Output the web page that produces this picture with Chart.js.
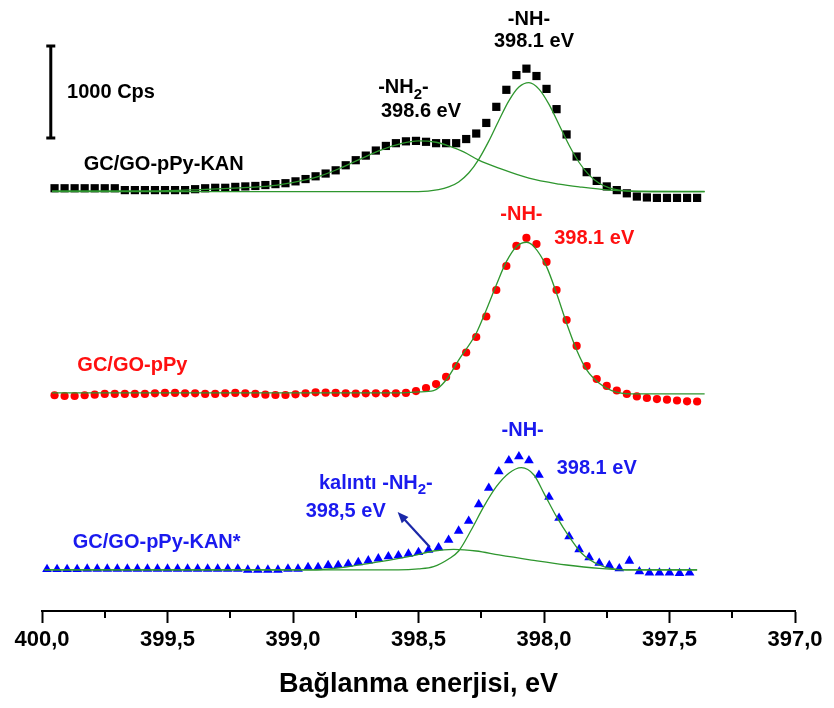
<!DOCTYPE html>
<html>
<head>
<meta charset="utf-8">
<script src="https://cdn.jsdelivr.net/npm/chart.js@4.4.0/dist/chart.umd.min.js"></script>
<style>
html, body { margin: 0; padding: 0; background: #fff; }
#kutu { width: 834px; height: 708px; }
</style>
</head>
<body>
<div id="kutu"><canvas id="xpsGrafik" width="834" height="708"></canvas></div>
<script>
// enerji degerleri (eV) - GC/GO-pPy-KAN ve GC/GO-pPy olcumleri
const enerjiA = [399.95, 399.91, 399.87, 399.83, 399.79, 399.75, 399.71, 399.67, 399.63, 399.59,
    399.55, 399.51, 399.47, 399.43, 399.39, 399.35, 399.31, 399.27, 399.23, 399.19,
    399.15, 399.11, 399.07, 399.03, 398.99, 398.95, 398.91, 398.87, 398.83, 398.79,
    398.75, 398.71, 398.67, 398.63, 398.59, 398.55, 398.51, 398.47, 398.43, 398.39,
    398.35, 398.31, 398.27, 398.23, 398.19, 398.15, 398.11, 398.07, 398.03, 397.99,
    397.95, 397.91, 397.87, 397.83, 397.79, 397.75, 397.71, 397.67, 397.63, 397.59,
    397.55, 397.51, 397.47, 397.43, 397.39];
// GC/GO-pPy-KAN* olcumu
const enerjiB = [399.98, 399.94, 399.90, 399.86, 399.82, 399.78, 399.74, 399.70, 399.66, 399.62,
    399.58, 399.54, 399.50, 399.46, 399.42, 399.38, 399.34, 399.30, 399.26, 399.22,
    399.18, 399.14, 399.10, 399.06, 399.02, 398.98, 398.94, 398.90, 398.86, 398.82,
    398.78, 398.74, 398.70, 398.66, 398.62, 398.58, 398.54, 398.50, 398.46, 398.42,
    398.38, 398.34, 398.30, 398.26, 398.22, 398.18, 398.14, 398.10, 398.06, 398.02,
    397.98, 397.94, 397.90, 397.86, 397.82, 397.78, 397.74, 397.70, 397.66, 397.62,
    397.58, 397.54, 397.50, 397.46, 397.42];

// siddetler (Cps, grafikteki kaydirilmis hali)
const kanSiddet = [4595, 4595, 4595, 4595, 4595, 4595, 4595, 4575, 4575, 4575,
    4575, 4575, 4575, 4575, 4585, 4595, 4600, 4600, 4610, 4615,
    4620, 4630, 4640, 4650, 4670, 4695, 4725, 4755, 4790, 4845,
    4900, 4950, 5005, 5055, 5085, 5105, 5110, 5100, 5085, 5085,
    5085, 5130, 5190, 5305, 5480, 5665, 5825, 5895, 5815, 5675,
    5455, 5180, 4940, 4770, 4675, 4615, 4575, 4540, 4505, 4495,
    4490, 4490, 4490, 4490, 4490];
const ppySiddet = [2345, 2337, 2337, 2345, 2351, 2359, 2359, 2359, 2359, 2359,
    2366, 2370, 2370, 2366, 2366, 2359, 2359, 2366, 2370, 2366,
    2359, 2351, 2348, 2348, 2355, 2366, 2377, 2373, 2370, 2366,
    2362, 2366, 2366, 2366, 2366, 2370, 2391, 2424, 2467, 2544,
    2663, 2810, 2978, 3201, 3489, 3750, 3968, 4055, 3989, 3794,
    3489, 3163, 2881, 2663, 2522, 2446, 2397, 2359, 2332, 2315,
    2304, 2297, 2288, 2279, 2277];
const kanYildizSiddet = [453, 453, 453, 453, 457, 457, 457, 457, 457, 457,
    457, 457, 457, 457, 457, 457, 457, 457, 457, 457,
    446, 446, 446, 446, 457, 457, 475, 475, 497, 497,
    511, 529, 547, 569, 592, 603, 620, 638, 663, 690,
    772, 870, 978, 1158, 1337, 1516, 1636, 1679, 1636, 1478,
    1239, 1011, 810, 669, 582, 522, 495, 462, 544, 429,
    416, 416, 416, 410, 416];

// fit egrileri
const kanFitNH2Enerji = [399.96, 399.77, 399.57, 399.37, 399.21, 399.09, 398.97, 398.89, 398.81, 398.73,
    398.65, 398.57, 398.50, 398.43, 398.38, 398.32, 398.26, 398.18, 398.06, 397.94,
    397.86, 397.74, 397.58, 397.36];
const kanFitNH2 = [4565, 4565, 4565, 4580, 4600, 4620, 4675, 4730, 4815, 4915,
    5010, 5080, 5110, 5095, 5055, 4990, 4900, 4815, 4705, 4640,
    4610, 4575, 4560, 4560];
const kanFitNHEnerji = [399.96, 398.50, 398.42, 398.38, 398.34, 398.30, 398.26, 398.22, 398.18, 398.14,
    398.10, 398.06, 398.02, 397.98, 397.94, 397.90, 397.86, 397.82, 397.78, 397.74,
    397.70, 397.62, 397.36];
const kanFitNH = [4558, 4558, 4580, 4609, 4664, 4761, 4910, 5107, 5332, 5545,
    5695, 5743, 5673, 5507, 5286, 5063, 4875, 4738, 4650, 4600,
    4575, 4560, 4558];
const ppyFitEnerji = [399.96, 398.58, 398.50, 398.44, 398.39, 398.34, 398.27, 398.23, 398.19, 398.15,
    398.11, 398.07, 398.04, 397.99, 397.95, 397.91, 397.87, 397.83, 397.78, 397.73,
    397.65, 397.36];
const ppyFit = [2370, 2370, 2381, 2395, 2511, 2728, 3019, 3272, 3544, 3797,
    3960, 4008, 3960, 3743, 3453, 3127, 2837, 2620, 2475, 2395,
    2359, 2359];
const kanYildizFitNHEnerji = [399.99, 398.58, 398.50, 398.44, 398.38, 398.34, 398.29, 398.24, 398.19, 398.14,
    398.09, 398.04, 398.00, 397.95, 397.90, 397.85, 397.78, 397.71, 397.62, 397.39];
const kanYildizFitNH = [446, 446, 457, 482, 565, 652, 880, 1134, 1351, 1497,
    1558, 1478, 1279, 1025, 808, 627, 500, 453, 446, 446];
const kanYildizFitNH2Enerji = [399.99, 398.97, 398.89, 398.79, 398.66, 398.52, 398.44, 398.36, 398.27, 398.18,
    398.05, 397.91, 397.78, 397.65, 397.39];
const kanYildizFitNH2 = [446, 446, 451, 478, 533, 603, 652, 669, 652, 609,
    554, 500, 464, 446, 446];

// eksen
const anaTikler = [400.0, 399.5, 399.0, 398.5, 398.0, 397.5, 397.0];
const araTikler = [399.75, 399.25, 398.75, 398.25, 397.75, 397.25];

const yazi = 'Arial, "Liberation Sans", sans-serif';
const yesil = '#2e962e';
const siyah = '#000000';
const kirmizi = '#ff1010';
const mavi = '#1a1aee';

function noktalar(enerji, siddet) {
    return enerji.map((e, i) => ({ x: e, y: siddet[i] }));
}

function fitSeti(enerji, siddet) {
    return {
        data: noktalar(enerji, siddet),
        showLine: true,
        borderColor: yesil,
        borderWidth: 1.3,
        pointRadius: 0,
        cubicInterpolationMode: 'monotone',
        fill: false
    };
}

// yazilar: [metin parcasi, boyut, dikey kayma]
const etiketler = [
    { p: [['-NH-', 20, 0]], e: 398.06, v: 6425, renk: siyah },
    { p: [['398.1 eV', 20, 0]], e: 398.04, v: 6185, renk: siyah },
    { p: [['-NH', 20, 0], ['2', 15, 7], ['-', 20, 0]], e: 398.56, v: 5685, renk: siyah },
    { p: [['398.6 eV', 20, 0]], e: 398.49, v: 5425, renk: siyah },
    { p: [['GC/GO-pPy-KAN', 20, 0]], e: 399.515, v: 4850, renk: siyah },
    { p: [['-NH-', 20, 0]], e: 398.09, v: 4305, renk: kirmizi },
    { p: [['398.1 eV', 20, 0]], e: 397.80, v: 4045, renk: kirmizi },
    { p: [['GC/GO-pPy', 20, 0]], e: 399.64, v: 2665, renk: kirmizi },
    { p: [['-NH-', 20, 0]], e: 398.085, v: 1967, renk: mavi },
    { p: [['398.1 eV', 20, 0]], e: 397.79, v: 1545, renk: mavi },
    { p: [['kalıntı -NH', 20, 0], ['2', 15, 7], ['-', 20, 0]], e: 398.67, v: 1390, renk: mavi },
    { p: [['398,5 eV', 20, 0]], e: 398.79, v: 1087, renk: mavi },
    { p: [['GC/GO-pPy-KAN*', 20, 0]], e: 399.543, v: 740, renk: mavi }
];

function yaz(ctx, parcalar, cx, cy, renk) {
    let toplam = 0;
    parcalar.forEach(p => {
        ctx.font = 'bold ' + p[1] + 'px ' + yazi;
        toplam += ctx.measureText(p[0]).width;
    });
    let x = cx - toplam / 2;
    ctx.fillStyle = renk;
    ctx.textAlign = 'left';
    ctx.textBaseline = 'middle';
    parcalar.forEach(p => {
        ctx.font = 'bold ' + p[1] + 'px ' + yazi;
        ctx.fillText(p[0], x, cy + p[2]);
        x += ctx.measureText(p[0]).width;
    });
}

const ekCizimler = {
    id: 'ekCizimler',
    afterDraw(chart) {
        const ctx = chart.ctx;
        const sx = chart.scales.x;
        const sy = chart.scales.y;
        ctx.save();
        // ara tikler
        ctx.strokeStyle = siyah;
        ctx.lineWidth = 2;
        araTikler.forEach(e => {
            const px = Math.round(sx.getPixelForValue(e));
            ctx.beginPath();
            ctx.moveTo(px, sx.top);
            ctx.lineTo(px, sx.top + 7);
            ctx.stroke();
        });
        // 1000 Cps olcek cubugu
        const bx = sx.getPixelForValue(399.965);
        const b1 = sy.getPixelForValue(5142);
        const b2 = sy.getPixelForValue(5142 + 1000);
        ctx.lineWidth = 3;
        ctx.beginPath();
        ctx.moveTo(bx, b1); ctx.lineTo(bx, b2);
        ctx.moveTo(bx - 4.5, b1); ctx.lineTo(bx + 4.5, b1);
        ctx.moveTo(bx - 4.5, b2); ctx.lineTo(bx + 4.5, b2);
        ctx.stroke();
        ctx.font = 'bold 20px ' + yazi;
        ctx.fillStyle = siyah;
        ctx.textAlign = 'left';
        ctx.textBaseline = 'middle';
        ctx.fillText('1000 Cps', sx.getPixelForValue(399.90), sy.getPixelForValue(5631));
        // yazilar
        etiketler.forEach(t => {
            yaz(ctx, t.p, sx.getPixelForValue(t.e), sy.getPixelForValue(t.v), t.renk);
        });
        // ok
        const ux = sx.getPixelForValue(398.455), uy = sy.getPixelForValue(696);
        const hx = sx.getPixelForValue(398.583), hy = sy.getPixelForValue(1076);
        const aci = Math.atan2(hy - uy, hx - ux);
        ctx.strokeStyle = '#1b28a8';
        ctx.fillStyle = '#1b28a8';
        ctx.lineWidth = 2.2;
        ctx.beginPath();
        ctx.moveTo(ux, uy);
        ctx.lineTo(hx - 6 * Math.cos(aci), hy - 6 * Math.sin(aci));
        ctx.stroke();
        ctx.beginPath();
        ctx.moveTo(hx, hy);
        ctx.lineTo(hx - 11 * Math.cos(aci) + 4.5 * Math.sin(aci), hy - 11 * Math.sin(aci) - 4.5 * Math.cos(aci));
        ctx.lineTo(hx - 11 * Math.cos(aci) - 4.5 * Math.sin(aci), hy - 11 * Math.sin(aci) + 4.5 * Math.cos(aci));
        ctx.closePath();
        ctx.fill();
        ctx.restore();
    }
};

new Chart(document.getElementById('xpsGrafik').getContext('2d'), {
    type: 'scatter',
    data: {
        datasets: [
            fitSeti(kanFitNH2Enerji, kanFitNH2),
            fitSeti(kanFitNHEnerji, kanFitNH),
            fitSeti(ppyFitEnerji, ppyFit),
            fitSeti(kanYildizFitNHEnerji, kanYildizFitNH),
            fitSeti(kanYildizFitNH2Enerji, kanYildizFitNH2),
            {
                label: 'GC/GO-pPy-KAN',
                data: noktalar(enerjiA, kanSiddet),
                pointStyle: 'rect',
                pointRadius: 5.8,
                pointBackgroundColor: siyah,
                pointBorderWidth: 0
            },
            {
                label: 'GC/GO-pPy',
                data: noktalar(enerjiA, ppySiddet),
                pointStyle: 'circle',
                pointRadius: 4.1,
                pointBackgroundColor: '#ff0000',
                pointBorderWidth: 0
            },
            {
                label: 'GC/GO-pPy-KAN*',
                data: noktalar(enerjiB, kanYildizSiddet),
                pointStyle: 'triangle',
                pointRadius: 5.6,
                pointBackgroundColor: '#0000ff',
                pointBorderWidth: 0
            }
        ]
    },
    options: {
        responsive: false,
        animation: false,
        events: [],
        layout: { padding: { left: 42, right: 39, top: 13, bottom: 0 } },
        plugins: {
            legend: { display: false },
            tooltip: { enabled: false }
        },
        scales: {
            x: {
                type: 'linear',
                reverse: true,
                min: 397,
                max: 400,
                afterFit: function (scale) { scale.height = 97; },
                afterBuildTicks: function (scale) {
                    scale.ticks = anaTikler.map(v => ({ value: v }));
                },
                border: { display: true, color: siyah, width: 2 },
                grid: {
                    drawOnChartArea: false,
                    drawTicks: true,
                    tickLength: 12,
                    tickWidth: 2,
                    tickColor: siyah
                },
                ticks: {
                    color: siyah,
                    padding: 4,
                    maxRotation: 0,
                    autoSkip: false,
                    font: { family: yazi, size: 22, weight: 'bold' },
                    callback: v => v.toFixed(1).replace('.', ',')
                },
                title: {
                    display: true,
                    text: 'Bağlanma enerjisi, eV',
                    color: siyah,
                    font: { family: yazi, size: 27, weight: 'bold' },
                    padding: { top: 0, bottom: 7 }
                }
            },
            y: {
                display: false,
                min: 0,
                max: 6500
            }
        }
    },
    plugins: [ekCizimler]
});
</script>
</body>
</html>
